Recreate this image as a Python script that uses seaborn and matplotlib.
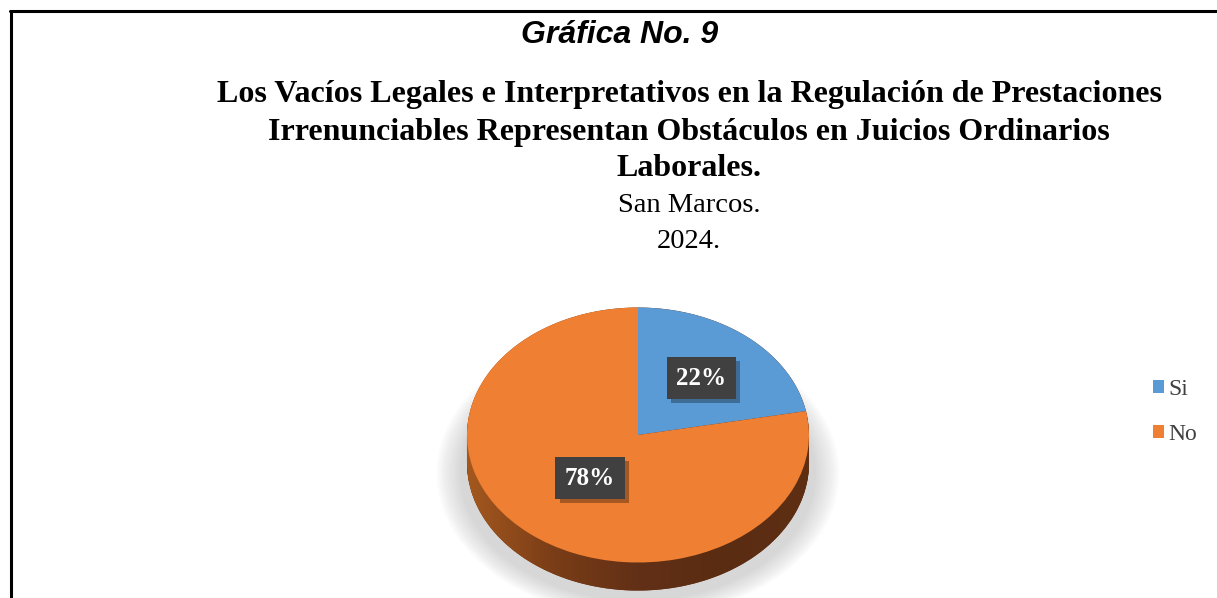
import numpy as np
import matplotlib
matplotlib.use("Agg")
import matplotlib.pyplot as plt
import matplotlib.patheffects as pe
from matplotlib.patches import Patch, Ellipse, PathPatch
from matplotlib.path import Path
from matplotlib.lines import Line2D
from matplotlib.colors import LinearSegmentedColormap
import seaborn as sns

# ---- data ----
categories = ["Si", "No"]
values = [22, 78]
pct_labels = ["22%", "78%"]

chart_label = "Gráfica No. 9"
title_lines = ["Los Vacíos Legales e Interpretativos en la Regulación de Prestaciones",
               "Irrenunciables Representan Obstáculos en Juicios Ordinarios",
               "Laborales."]
subtitle_lines = ["San Marcos.", "2024."]

top_colors = ["#5B9BD5", "#EF7F33"]
side_colors = ["#3B6A98", "#6A3616"]

sns.set_theme(style="white")
plt.rcParams["font.family"] = ["Liberation Serif", "DejaVu Serif"]

W, H = 1217, 598
fig = plt.figure(figsize=(W / 100, H / 100), dpi=100)
fig.patch.set_facecolor("white")

# frame
fig.add_artist(Line2D([10 / W, 1.0], [1 - 10.5 / H, 1 - 10.5 / H], color="black", lw=2.2,
                      transform=fig.transFigure))
fig.add_artist(Line2D([10.5 / W, 10.5 / W], [0, 1 - 10.5 / H], color="black", lw=2.2,
                      transform=fig.transFigure))

# texts
fig.text(620 / W, 1 - 43 / H, chart_label, ha="center", va="baseline", color="black",
         fontsize=23, fontweight="bold", fontstyle="italic", family="Liberation Sans")
for line, yb in zip(title_lines, [102, 140, 176]):
    fig.text(689 / W, 1 - yb / H, line, ha="center", va="baseline",
             fontsize=23, fontweight="bold", color="black")
for line, yb in zip(subtitle_lines, [212, 248]):
    fig.text(689 / W, 1 - yb / H, line, ha="center", va="baseline",
             fontsize=20.5, color="black")

# pie axes
cx, cy, rx, ry = 638, 435, 171, 127.5
px0, px1, py0, py1 = 430, 846, 270, 598
ax = fig.add_axes([px0 / W, 1 - py1 / H, (px1 - px0) / W, (py1 - py0) / H])
xlim = ((px0 - cx) / rx, (px1 - cx) / rx)
ylim = ((cy - py1) / ry, (cy - py0) / ry)

# soft shadow
depth = 0.22
for k in range(12):
    s = 1.0 + 0.012 * k
    ax.add_patch(Ellipse((0.0, -depth - 0.08), 2 * s * 1.04, 2 * s * 1.0,
                         facecolor="#9a9a9a", edgecolor="none", alpha=0.035, zorder=0))

# side layers
n_layers = 30
for i in range(n_layers, 0, -1):
    off = depth * i / n_layers
    ws, _ = ax.pie(values, colors=side_colors, startangle=90, counterclock=False,
                   center=(0, -off), radius=1.0, frame=True,
                   wedgeprops=dict(linewidth=0, edgecolor="none"))
    for w in ws:
        w.set_zorder(0.5)

# horizontal shading of the side wall
t1 = np.linspace(np.pi, 2 * np.pi, 100)
t2 = np.linspace(0, np.pi, 100)
verts = np.vstack([np.column_stack([np.cos(t1), np.sin(t1) - depth]),
                   np.column_stack([np.cos(t2), np.sin(t2)]),
                   [[-1, -depth]]])
clip = PathPatch(Path(verts, closed=True), transform=ax.transData, facecolor="none",
                 edgecolor="none")
ax.add_patch(clip)
cmap = LinearSegmentedColormap.from_list("side", ["#A4581F", "#7A3D17", "#623016",
                                                  "#5A2C12", "#5E2F13"])
grad = np.linspace(0, 1, 256).reshape(1, -1)
im = ax.imshow(grad, cmap=cmap, extent=(-1, 1, -1 - depth, 1), aspect="auto", zorder=0.8)
im.set_clip_path(clip)

# top face
wedges, _ = ax.pie(values, colors=top_colors, startangle=90, counterclock=False,
                   center=(0, 0), radius=1.0, frame=True,
                   wedgeprops=dict(linewidth=0, edgecolor="none"))
for w in wedges:
    w.set_zorder(1)

ax.set_aspect("auto")
ax.set_xlim(*xlim)
ax.set_ylim(*ylim)
ax.axis("off")

# percentage labels
label_dist = [0.58, 0.44]
for w, lab, d in zip(wedges, pct_labels, label_dist):
    ang = np.deg2rad((w.theta1 + w.theta2) / 2)
    x, y = d * np.cos(ang), d * np.sin(ang)
    t = ax.text(x, y, lab, ha="center", va="center", fontsize=18, fontweight="bold",
                color="white", zorder=5,
                bbox=dict(boxstyle="square,pad=0.38", facecolor="#404040", edgecolor="none"))
    t.get_bbox_patch().set_path_effects([
        pe.SimplePatchShadow(offset=(3, -3), shadow_rgbFace="black", alpha=0.3),
        pe.Normal()])

# legend
handles = [Patch(facecolor=c, edgecolor="none", label=l) for c, l in zip(top_colors, categories)]
fig.legend(handles=handles, loc="center left", bbox_to_anchor=(1132 / W, 1 - 412 / H),
           frameon=False, fontsize=17, handlelength=0.45, handleheight=0.45,
           handletextpad=0.2, labelspacing=1.0, labelcolor="#404040")

fig.savefig("out.png", dpi=100, facecolor="white")
